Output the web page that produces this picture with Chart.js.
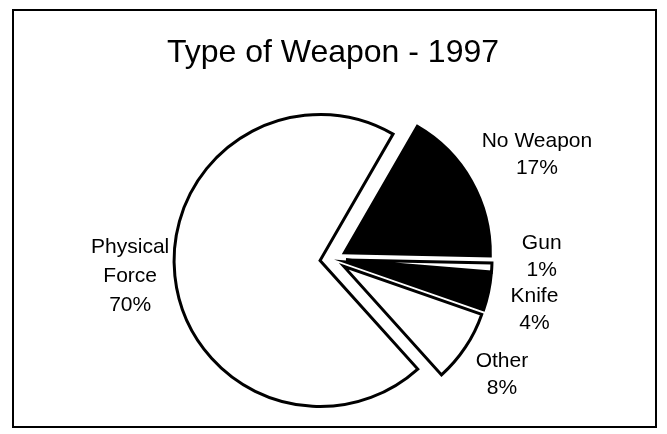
<!DOCTYPE html>
<html>
<head>
<meta charset="utf-8">
<script src="https://cdn.jsdelivr.net/npm/chart.js@4"></script>
<style>
  body { margin: 0; background: #fff; }
</style>
</head>
<body>
<canvas id="myChart" width="667" height="434"></canvas>
<script>
let categories = ['No Weapon', 'Gun', 'Knife', 'Other', 'Physical Force'];
let labelLines = [['No Weapon'], ['Gun'], ['Knife'], ['Other'], ['Physical', 'Force']];
let percents = [17, 1, 4, 8, 70];
let fills = ['#000', '#fff', '#000', '#fff', '#fff'];

let fontFamily = "'Liberation Sans', Arial, sans-serif";

// every slice is pulled out from the middle by the same amount
let explodePlugin = {
	id: 'explode',
	beforeDatasetDraw(chart, args, opts) {
		let ctx = chart.ctx;
		args.meta.data.forEach((arc) => {
			let mid = (arc.startAngle + arc.endAngle) / 2;
			ctx.save();
			ctx.translate(Math.cos(mid) * opts.distance, Math.sin(mid) * opts.distance);
			arc.draw(ctx);
			ctx.restore();
		});
		return false;
	}
};

// outside labels, placed from the slice angle, then nudged a bit
let sliceLabels = {
	id: 'sliceLabels',
	afterDatasetsDraw(chart, args, opts) {
		let ctx = chart.ctx;
		let meta = chart.getDatasetMeta(0);
		ctx.save();
		ctx.font = opts.size + 'px ' + fontFamily;
		ctx.fillStyle = '#000';
		ctx.textAlign = 'center';
		ctx.textBaseline = 'middle';
		meta.data.forEach((arc, i) => {
			let mid = (arc.startAngle + arc.endAngle) / 2;
			let x = arc.x + Math.cos(mid) * opts.distance + opts.shift[i][0];
			let y = arc.y + Math.sin(mid) * opts.distance + opts.shift[i][1];
			let lines = labelLines[i].concat([percents[i] + '%']);
			let lh = lines.length > 2 ? opts.lineHeight + 2 : opts.lineHeight;
			let top = y - (lines.length - 1) * lh / 2;
			for (let j = 0; j < lines.length; j++) {
				ctx.fillText(lines[j], x, top + j * lh);
			}
		});
		ctx.restore();
	}
};

let framePlugin = {
	id: 'frame',
	afterDraw(chart) {
		let ctx = chart.ctx;
		ctx.save();
		ctx.strokeStyle = '#000';
		ctx.lineWidth = 2;
		ctx.strokeRect(13, 10, 643, 417);
		ctx.restore();
	}
};

let ctx = document.getElementById('myChart');
let myChart = new Chart(ctx, {
	type: 'pie',
	data: {
		labels: categories,
		datasets: [{
			data: percents,
			backgroundColor: fills,
			borderColor: '#000',
			borderWidth: 3,
			borderJoinStyle: 'miter'
		}]
	},
	options: {
		responsive: false,
		animation: false,
		rotation: 30,
		radius: 146,
		layout: { padding: { left: 0, right: 1, top: 0, bottom: 6 } },
		plugins: {
			legend: { display: false },
			tooltip: { enabled: false },
			title: {
				display: true,
				text: 'Type of Weapon - 1997',
				color: '#000',
				font: { family: fontFamily, size: 32, weight: 'normal' },
				padding: { top: 34, bottom: 18 }
			},
			explode: { distance: 13 },
			sliceLabels: {
				size: 21,
				lineHeight: 27,
				distance: 210,
				shift: [[21, -1], [-1, -13], [-4, 7], [-6, -1], [6, -5]]
			}
		}
	},
	plugins: [explodePlugin, sliceLabels, framePlugin]
});
</script>
</body>
</html>
